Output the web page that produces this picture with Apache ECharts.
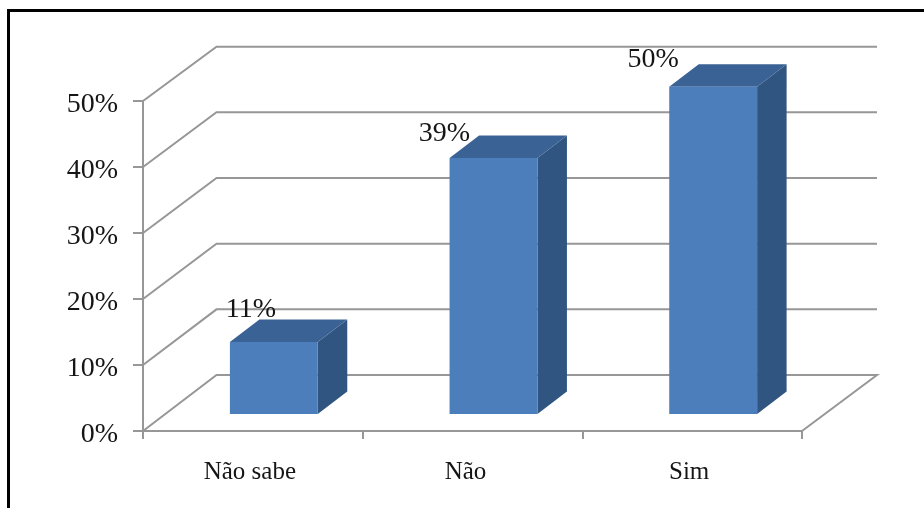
<!DOCTYPE html>
<html><head><meta charset="utf-8">
<style>html,body{margin:0;padding:0;background:#fff}#c{width:924px;height:508px}</style>
<script src="https://cdn.jsdelivr.net/npm/echarts@6/dist/echarts.min.js"></script>
</head><body><div id="c"></div>
<script>
var categories = ['Não sabe', 'Não', 'Sim'];
var values = [10.9, 38.8, 49.6];
var yTicks = [0, 10, 20, 30, 40, 50];
var labelShift = [[-23, -32], [-49, -24], [-60, -27]];
var categoryPad = [6, 14, 6];

var GRID = '#979797', FRONT = '#4b7ebb', TOP = '#3a6295', SIDE = '#305581', INK = '#151515', FONT = '"Liberation Serif", serif';
var wallDepth = [73.5, -56], wallExtra = 1.5, wallSquash = 0.995, barDepth = [29.5, -22.5], barInset = [21, -17];
var chart = echarts.init(document.getElementById('c'), null, {renderer: 'canvas'});

function wallItem(params, api) {
  var v = api.value(0);
  var a = api.coord([0, v]), z = api.coord([0, 0]), s = api.size([1, 0]);
  var left = a[0] - s[0] / 2, y = a[1], by = z[1] + wallDepth[1] + (y - z[1]) * wallSquash;
  var pts = [[left, y], [left + wallDepth[0], by], [left + 3 * s[0] + wallDepth[0] + wallExtra, by]];
  if (v === 0) pts.push([left + 3 * s[0], y]);
  return {type: 'polyline', shape: {points: pts}, style: {stroke: GRID, lineWidth: 2, fill: null}, silent: true};
}
function barItem(params, api) {
  var i = api.value(0), v = api.value(1);
  var top = api.coord([i, v]), base = api.coord([i, 0]), s = api.size([1, 0]);
  var w = s[0] * 0.4, x0 = top[0] - w / 2 + barInset[0], x1 = x0 + w;
  var yt = top[1] + barInset[1], yb = base[1] + barInset[1], dx = barDepth[0], dy = barDepth[1];
  return {type: 'group', children: [
    {type: 'polygon', shape: {points: [[x1, yt], [x1 + dx, yt + dy], [x1 + dx, yb + dy], [x1, yb]]}, style: {fill: SIDE}},
    {type: 'polygon', shape: {points: [[x0, yt], [x0 + dx, yt + dy], [x1 + dx, yt + dy], [x1, yt]]}, style: {fill: TOP}},
    {type: 'rect', shape: {x: x0, y: yt, width: w, height: yb - yt}, style: {fill: FRONT}},
    {type: 'text', x: x0 + w / 2 + labelShift[i][0], y: yt + labelShift[i][1], style: {text: Math.round(v) + '%', fill: INK, font: '28px ' + FONT, align: 'center', verticalAlign: 'middle'}}
  ]};
}
var rich = {};
categories.forEach(function (c, i) { rich['c' + i] = {padding: [0, categoryPad[i], 0, 0], fontFamily: FONT, fontSize: 25, color: INK}; });

chart.setOption({
  animation: false,
  backgroundColor: '#fff',
  graphic: [
    {type: 'line', shape: {x1: 8.5, y1: 10.5, x2: 924, y2: 10.5}, style: {stroke: '#000', lineWidth: 3}, z: 100, silent: true},
    {type: 'line', shape: {x1: 8.5, y1: 9, x2: 8.5, y2: 508}, style: {stroke: '#000', lineWidth: 3}, z: 100, silent: true}
  ],
  grid: {left: 143, right: 122, top: 101, bottom: 77, containLabel: false},
  xAxis: {type: 'category', data: categories, boundaryGap: true,
    axisLine: {show: true, lineStyle: {color: GRID, width: 2}},
    axisTick: {show: true, length: 8, lineStyle: {color: GRID, width: 2}},
    axisLabel: {margin: 29, formatter: function (v) { var i = categories.indexOf(v); return '{c' + i + '|' + v + '}'; }, rich: rich}},
  yAxis: {type: 'value', min: 0, max: 50, interval: 10,
    splitLine: {show: false},
    axisLine: {show: true, lineStyle: {color: GRID, width: 2}},
    axisTick: {show: true, length: 10, lineStyle: {color: GRID, width: 2}},
    axisLabel: {margin: 25, fontFamily: FONT, fontSize: 28, color: INK, verticalAlign: 'top', lineHeight: 28, padding: [-10, 0, 0, 0], formatter: '{value}%'}},
  series: [
    {type: 'custom', coordinateSystem: 'cartesian2d', renderItem: wallItem, data: yTicks.map(function (t) { return [t]; }), encode: {y: 0}, z: 1, silent: true, clip: false},
    {type: 'custom', coordinateSystem: 'cartesian2d', renderItem: barItem, data: values.map(function (v, i) { return [i, v]; }), encode: {x: 0, y: 1}, z: 2, silent: true, clip: false}
  ]
});
</script></body></html>
